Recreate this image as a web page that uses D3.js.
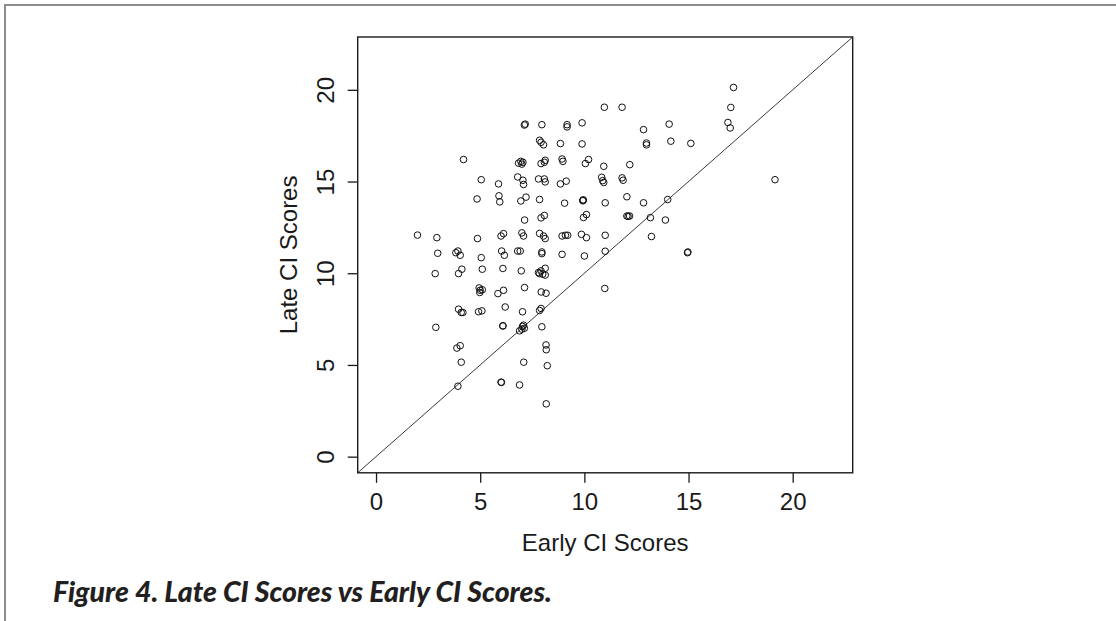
<!DOCTYPE html>
<html>
<head>
<meta charset="utf-8">
<script src="https://cdn.jsdelivr.net/npm/d3@7"></script>
<style>
  html, body { margin: 0; padding: 0; background: #fff; }
  svg { display: block; }
  .axis text { font-family: 'Liberation Sans', Arial, sans-serif; font-size: 24px; fill: #1a1a1a; }
  .axis line { stroke: #1a1a1a; stroke-width: 1.3; }
  .title { font-family: 'Liberation Sans', Arial, sans-serif; font-size: 24px; fill: #1a1a1a; }
  .caption { font-family: Lato, 'Open Sans', sans-serif; font-style: italic; font-weight: 900; font-size: 21px; fill: #231f20; }
</style>
</head>
<body>
<div id="chart"></div>
<script>
  // data (early score, late score per student)
  var earlyScores = [
    17.16, 17.03, 16.89, 17.0, 10.96, 11.81, 14.07, 12.84, 12.98, 12.98, 14.15, 15.11, 19.15,
    7.16, 7.12, 7.96, 9.17, 9.17, 9.89, 7.85, 7.92, 8.04, 8.85, 9.89,
    4.2, 6.84, 6.95, 7.05, 7.0, 7.92, 8.08, 8.12, 8.93, 8.97, 10.05, 10.2, 10.93, 12.18,
    5.05, 5.88, 6.8, 7.05, 7.08, 7.8, 8.08, 8.12, 8.85, 9.13, 10.83, 10.88, 10.93, 11.81, 11.86,
    4.85, 5.9, 5.94, 6.95, 7.2, 7.85, 9.05, 9.93, 9.95, 9.93, 11.0, 12.04, 12.84, 14.0,
    7.13, 7.92, 8.08, 9.96, 10.1, 12.04, 12.17, 12.1, 13.17, 13.89,
    1.99, 2.92, 4.87, 6.0, 6.12, 7.0, 7.08, 7.85, 8.04, 8.12, 8.93, 9.09, 9.2, 9.86, 10.1, 11.0, 13.22,
    2.96, 3.83, 3.93, 4.04, 5.05, 6.03, 6.16, 6.8, 6.92, 7.96, 7.96, 8.93, 10.0, 11.0, 14.97, 14.95,
    2.84, 3.96, 4.12, 5.1, 6.09, 6.97, 7.8, 7.92, 8.0, 8.12, 8.12, 7.85,
    4.95, 5.0, 4.98, 5.1, 5.85, 6.12, 7.13, 7.93, 8.16, 10.98,
    3.96, 4.09, 4.17, 4.92, 5.08, 6.2, 7.03, 7.85, 7.92,
    2.87, 6.09, 6.09, 6.89, 7.03, 7.08, 7.12, 7.0, 7.96,
    8.16, 8.17, 3.88, 4.04, 4.09, 7.09, 8.22, 6.0, 6.02, 6.89, 3.93, 8.17
  ];
  var lateScores = [
    20.13, 19.04, 18.22, 17.92, 19.05, 19.05, 18.13, 17.83, 17.1, 17.0, 17.2, 17.08, 15.1,
    18.13, 18.08, 18.1, 18.1, 17.98, 18.2, 17.25, 17.14, 17.0, 17.07, 17.05,
    16.2, 16.0, 16.1, 16.05, 15.95, 15.98, 16.05, 16.16, 16.23, 16.1, 15.98, 16.2, 15.83, 15.92,
    15.1, 14.87, 15.25, 15.07, 14.84, 15.14, 15.14, 14.98, 14.87, 15.02, 15.23, 15.05, 14.95, 15.2, 15.07,
    14.05, 14.22, 13.89, 13.94, 14.15, 14.02, 13.82, 13.98, 14.0, 13.95, 13.84, 14.17, 13.84, 14.02,
    12.9, 13.02, 13.15, 13.04, 13.2, 13.12, 13.12, 13.1, 13.03, 12.9,
    12.08, 11.94, 11.89, 12.03, 12.16, 12.2, 12.03, 12.17, 12.03, 11.89, 12.03, 12.07, 12.07, 12.12, 11.94, 12.07, 12.0,
    11.09, 11.12, 11.21, 10.98, 10.85, 11.21, 10.98, 11.21, 11.21, 11.16, 11.07, 11.03, 10.94, 11.2, 11.16, 11.12,
    9.98, 9.98, 10.22, 10.22, 10.26, 10.13, 10.04, 10.13, 9.95, 10.27, 9.9, 9.98,
    9.2, 9.07, 8.95, 9.1, 8.89, 9.07, 9.22, 8.98, 8.91, 9.17,
    8.04, 7.86, 7.86, 7.9, 7.95, 8.16, 7.9, 7.97, 8.08,
    7.05, 7.14, 7.12, 6.86, 7.1, 7.17, 7.0, 6.95, 7.08,
    6.09, 5.83, 5.92, 6.05, 5.15, 5.15, 4.96, 4.06, 4.05, 3.91, 3.84, 2.88
  ];
  var xTicks = [0, 5, 10, 15, 20];
  var yTicks = [0, 5, 10, 15, 20];
  var axisRange = [-0.88, 22.88]; // same limits on both axes
  var xTitle = 'Early CI Scores';
  var yTitle = 'Late CI Scores';
  var captionText = 'Figure 4. Late CI Scores vs Early CI Scores.';

  // layout
  var width = 1116;
  var height = 621;
  var plotLeft = 357.7;
  var plotRight = 852.7;
  var plotTop = 37;
  var plotBottom = 472.8;

  var svg = d3.select('#chart')
    .append('svg')
    .attr('width', width)
    .attr('height', height);

  svg.append('rect')
    .attr('width', width)
    .attr('height', height)
    .attr('fill', '#fff');

  // outer page frame (top and left only)
  svg.append('path')
    .attr('d', 'M5,' + height + 'V5H' + width)
    .attr('fill', 'none')
    .attr('stroke', '#8c8c8c')
    .attr('stroke-width', 2);

  var x = d3.scaleLinear().domain(axisRange).range([plotLeft, plotRight]);
  var y = d3.scaleLinear().domain(axisRange).range([plotBottom, plotTop]);

  // x axis
  var xAxis = d3.axisBottom(x)
    .tickValues(xTicks)
    .tickSize(10)
    .tickPadding(10.5);
  var gx = svg.append('g')
    .attr('class', 'axis')
    .attr('transform', 'translate(0,' + plotBottom + ')')
    .call(xAxis);
  gx.select('.domain').remove();

  // y axis, labels turned like R does
  var yAxis = d3.axisLeft(y)
    .tickValues(yTicks)
    .tickSize(10);
  var gy = svg.append('g')
    .attr('class', 'axis')
    .attr('transform', 'translate(' + plotLeft + ',0)')
    .call(yAxis);
  gy.select('.domain').remove();
  gy.selectAll('text')
    .attr('x', null)
    .attr('dy', null)
    .attr('text-anchor', 'middle')
    .attr('transform', 'translate(-23.5,0) rotate(-90)');

  // y = x reference line, clipped to the plot box
  svg.append('line')
    .attr('x1', x(axisRange[0]))
    .attr('y1', y(axisRange[0]))
    .attr('x2', x(axisRange[1]))
    .attr('y2', y(axisRange[1]))
    .attr('stroke', '#3a3a3a')
    .attr('stroke-width', 1);

  // points
  var points = earlyScores.map(function (d, i) {
    return { early: d, late: lateScores[i] };
  });
  svg.append('g')
    .selectAll('circle')
    .data(points)
    .enter()
    .append('circle')
    .attr('cx', function (d) { return x(d.early); })
    .attr('cy', function (d) { return y(d.late); })
    .attr('r', 3.3)
    .attr('fill', 'none')
    .attr('stroke', '#111')
    .attr('stroke-width', 1);

  // plot box
  svg.append('rect')
    .attr('x', plotLeft)
    .attr('y', plotTop)
    .attr('width', plotRight - plotLeft)
    .attr('height', plotBottom - plotTop)
    .attr('fill', 'none')
    .attr('stroke', '#1a1a1a')
    .attr('stroke-width', 1.4);

  // axis titles
  svg.append('text')
    .attr('class', 'title')
    .attr('x', (plotLeft + plotRight) / 2)
    .attr('y', 550.5)
    .attr('text-anchor', 'middle')
    .text(xTitle);
  svg.append('text')
    .attr('class', 'title')
    .attr('text-anchor', 'middle')
    .attr('transform', 'translate(296.5,' + (plotTop + plotBottom) / 2 + ') rotate(-90)')
    .text(yTitle);

  // figure caption, stretched to the width seen in the figure
  var caption = svg.append('text')
    .attr('class', 'caption')
    .attr('x', 53)
    .attr('y', 601.5)
    .text(captionText);
  var captionWidth = caption.node().getComputedTextLength();
  if (captionWidth > 0) {
    caption.style('font-size', (21 * 499 / captionWidth).toFixed(2) + 'px');
  }
</script>
</body>
</html>
